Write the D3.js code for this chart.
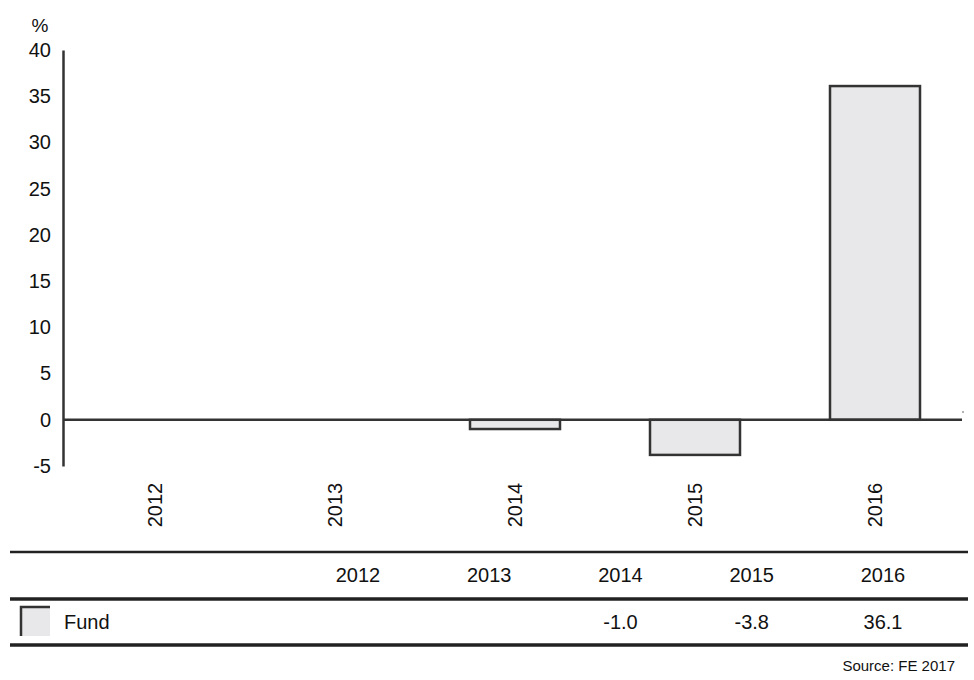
<!DOCTYPE html>
<meta charset="utf-8">
<script src="https://d3js.org/d3.v7.min.js"></script>
<style>
  body { margin: 0; background: #fff; }
  text { font-family: "Liberation Sans", Arial, sans-serif; fill: #111; }
</style>
<div id="chart"></div>
<script>
// data
var years = ["2012", "2013", "2014", "2015", "2016"];
var fund = [null, null, -1.0, -3.8, 36.1];
var yTicks = [40, 35, 30, 25, 20, 15, 10, 5, 0, -5];
var seriesName = "Fund";
var source = "Source: FE 2017";

var W = 974, H = 680;
var svg = d3.select("#chart").append("svg")
    .attr("width", W)
    .attr("height", H);

// scales
var x = d3.scaleBand()
    .domain(years)
    .range([65, 965])
    .paddingInner(0.5)
    .paddingOuter(0.25);

var y = d3.scaleLinear()
    .domain([-5, 40])
    .range([466, 50]);

// y axis
var yAxis = svg.append("g")
    .attr("transform", "translate(63,0)")
    .call(d3.axisLeft(y).tickValues(yTicks).tickSize(0).tickPadding(12)
      .tickFormat(function (d) { return String(d); }));
yAxis.select(".domain").attr("stroke", "#333").attr("stroke-width", 2.5);
yAxis.selectAll("text")
    .style("font-size", "20px")
    .attr("fill", "#111");

svg.append("text")
    .attr("x", 40)
    .attr("y", 32)
    .attr("text-anchor", "middle")
    .style("font-size", "19px")
    .text("%");

// bars
var rows = years.map(function (d, i) { return { year: d, v: fund[i] }; });

svg.append("g")
  .selectAll("rect")
  .data(rows.filter(function (d) { return d.v !== null; }))
  .enter()
  .append("rect")
    .attr("x", function (d) { return x(d.year); })
    .attr("width", x.bandwidth())
    .attr("y", function (d) { return y(Math.max(0, d.v)); })
    .attr("height", function (d) { return Math.abs(y(d.v) - y(0)); })
    .attr("fill", "#e8e8ea")
    .attr("stroke", "#333")
    .attr("stroke-width", 2.5);

// zero line
svg.append("line")
    .attr("x1", 63).attr("x2", 962)
    .attr("y1", y(0)).attr("y2", y(0))
    .attr("stroke", "#333")
    .attr("stroke-width", 2.5);

// small stray mark at right end
svg.append("circle")
    .attr("cx", 963).attr("cy", 412).attr("r", 1)
    .attr("fill", "#999");

// rotated category labels
svg.append("g")
  .selectAll("text")
  .data(years)
  .enter()
  .append("text")
    .attr("transform", function (d) {
      return "translate(" + (x(d) + x.bandwidth() / 2 + 7) + ",505) rotate(-90)";
    })
    .attr("text-anchor", "middle")
    .style("font-size", "20px")
    .text(function (d) { return d; });

// table below
var col = d3.scalePoint()
    .domain(years)
    .range([358, 883]);

svg.append("line")
    .attr("x1", 10).attr("x2", 968)
    .attr("y1", 552).attr("y2", 552)
    .attr("stroke", "#222").attr("stroke-width", 2.5);
svg.append("line")
    .attr("x1", 10).attr("x2", 968)
    .attr("y1", 599).attr("y2", 599)
    .attr("stroke", "#222").attr("stroke-width", 3.5);
svg.append("line")
    .attr("x1", 10).attr("x2", 968)
    .attr("y1", 645).attr("y2", 645)
    .attr("stroke", "#222").attr("stroke-width", 3.5);

svg.append("g")
  .selectAll("text")
  .data(years)
  .enter()
  .append("text")
    .attr("x", function (d) { return col(d); })
    .attr("y", 582)
    .attr("text-anchor", "middle")
    .style("font-size", "20px")
    .text(function (d) { return d; });

// legend swatch
svg.append("rect")
    .attr("x", 21).attr("y", 607)
    .attr("width", 29).attr("height", 29)
    .attr("fill", "#e8e8ea");
svg.append("path")
    .attr("d", "M21,636 V607 H50")
    .attr("fill", "none")
    .attr("stroke", "#333")
    .attr("stroke-width", 2.5);

svg.append("text")
    .attr("x", 64)
    .attr("y", 629)
    .style("font-size", "20px")
    .text(seriesName);

svg.append("g")
  .selectAll("text")
  .data(rows.filter(function (d) { return d.v !== null; }))
  .enter()
  .append("text")
    .attr("x", function (d) { return col(d.year); })
    .attr("y", 629)
    .attr("text-anchor", "middle")
    .style("font-size", "20px")
    .text(function (d) { return d.v.toFixed(1); });

svg.append("text")
    .attr("x", 955)
    .attr("y", 671)
    .attr("text-anchor", "end")
    .style("font-size", "15px")
    .text(source);
</script>
